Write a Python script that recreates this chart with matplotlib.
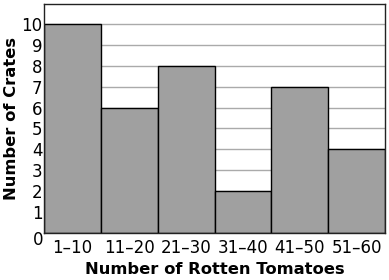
import matplotlib
matplotlib.use("Agg")
import matplotlib.pyplot as plt
import numpy as np

categories = ["1\u201310", "11\u201320", "21\u201330", "31\u201340", "41\u201350", "51\u201360"]
crates = [10, 6, 8, 2, 7, 4]
y_ticks = [1, 2, 3, 4, 5, 6, 7, 8, 9, 10]

plt.rcParams['font.family'] = ['DejaVu Sans']

fig = plt.figure(figsize=(3.89, 2.80), dpi=100)
ax = fig.add_axes([44 / 389, 1 - 233 / 280, 341 / 389, 229 / 280])

indexes = np.arange(len(categories))
ax.bar(indexes, crates, width=1.0, align='edge', color='#a0a0a0',
       edgecolor='black', linewidth=1.0, zorder=2)

ax.set_xlim(0, len(categories))
ax.set_ylim(0, 10.95)
ax.set_yticks(y_ticks)
ax.set_yticklabels([str(v) for v in y_ticks], fontsize=12)
ax.set_xticks(indexes + 0.5)
ax.set_xticklabels(categories, fontsize=12)
ax.tick_params(length=0, pad=1)
ax.tick_params(axis='x', pad=4)
ax.grid(axis='y', color='#aaaaaa', linewidth=1.0, zorder=1)
ax.set_axisbelow(True)
for s in ax.spines.values():
    s.set_color('#222222')
    s.set_linewidth(1.0)

# the zero label sits below the corner
ax.text(-0.11, -0.33, "0", fontsize=12, ha='center', va='center',
        transform=ax.transData, clip_on=False)

ax.set_xlabel("Number of Rotten Tomatoes", fontsize=11.8, fontweight='bold', labelpad=4)
ax.set_ylabel("Number of Crates", fontsize=11.8, fontweight='bold', labelpad=2)

fig.savefig("out.png", dpi=100)
